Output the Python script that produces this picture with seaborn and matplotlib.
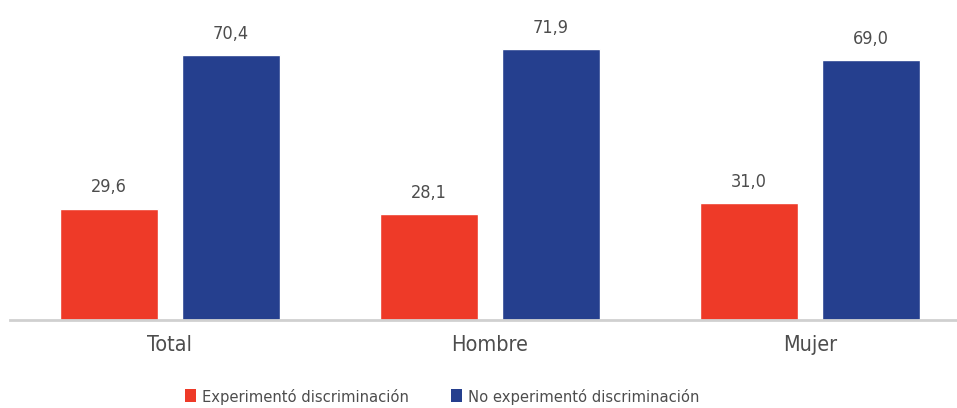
import pandas as pd
import matplotlib
matplotlib.use("Agg")
import matplotlib.pyplot as plt
import seaborn as sns
from matplotlib.patches import Patch

# Data
categorias = ['Total', 'Hombre', 'Mujer']
series = ['Experimentó discriminación', 'No experimentó discriminación']
experimento = [29.6, 28.1, 31.0]
no_experimento = [70.4, 71.9, 69.0]
colores = ['#EE3A28', '#253F8E']

df = pd.DataFrame({
    'categoria': categorias * 2,
    'serie': [series[0]] * 3 + [series[1]] * 3,
    'valor': experimento + no_experimento,
})

sns.set_theme(style='white')
plt.rcParams['font.family'] = ['DejaVu Sans']
plt.rcParams['font.stretch'] = 'condensed'
text_color = '#4D4D4D'

fig = plt.figure(figsize=(9.57, 4.08), dpi=100)
ax = fig.add_axes([10 / 957, 88 / 408, 947 / 957, 301 / 408])

sns.barplot(data=df, x='categoria', y='valor', hue='serie', order=categorias,
            hue_order=series, palette=colores, width=0.7625, gap=0.197,
            saturation=1, ax=ax, legend=False)

# value labels
for container in ax.containers:
    labels = [f'{v:.1f}'.replace('.', ',') for v in container.datavalues]
    ax.bar_label(container, labels=labels, padding=9, fontsize=13, color=text_color)

ax.set_ylim(0, 80)
ax.set_xlim(-0.5, 2.46)
ax.set_xlabel('')
ax.set_ylabel('')
ax.set_yticks([])
for s in ['top', 'right', 'left']:
    ax.spines[s].set_visible(False)
ax.spines['bottom'].set_color('#D0D0D0')
ax.spines['bottom'].set_linewidth(2)
ax.tick_params(axis='x', length=0, pad=11, labelsize=15.5, labelcolor=text_color)

handles = [Patch(facecolor=c, edgecolor='none') for c in colores]
fig.legend(handles, series, loc='center', bbox_to_anchor=(0.462, 0.028),
           ncol=2, frameon=False, fontsize=11.8, handlelength=0.65, handleheight=0.85,
           handletextpad=0.35, columnspacing=2.6, labelcolor=text_color)

fig.savefig('out.png', dpi=100)
